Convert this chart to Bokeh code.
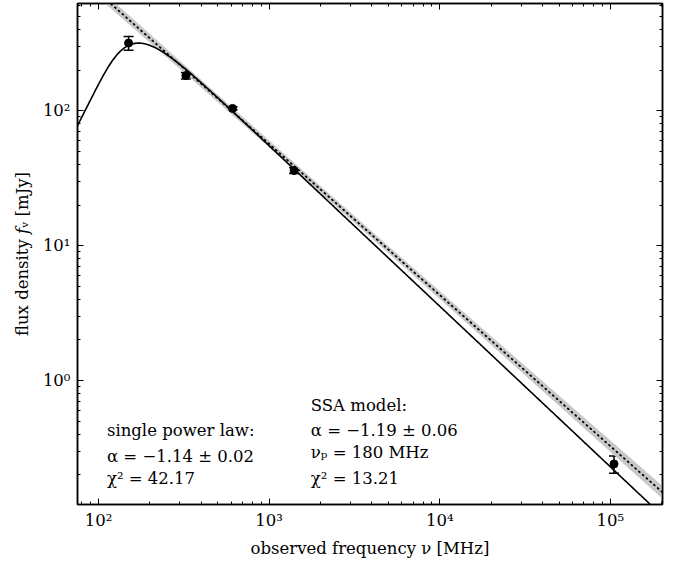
import numpy as np
from bokeh.plotting import figure
from bokeh.models import (LogAxis, FixedTicker, Whisker, TeeHead, ColumnDataSource,
                          Range1d, CustomJSTickFormatter)
from bokeh.core.properties import value
from bokeh.embed import file_html
from bokeh.resources import INLINE

# ---- measured data ----
freq_mhz = [150, 325, 610, 1400, 105000]
flux_mjy = [317, 182, 104, 36, 0.241]
flux_err = [37, 10, 3, 1.8, 0.035]

# ---- single power law fit (as drawn) ----
pl_alpha = -1.12
pl_alpha_err = 0.02
pl_norm_1ghz = 56.7        # mJy at 1 GHz
pl_norm_err_dex = 0.025
pl_pivot_mhz = 2000

# ---- SSA model fit ----
ssa_alpha = -1.19
ssa_nu_t = 158             # MHz (tau = 1)
ssa_norm_1ghz = 55         # mJy, optically thin asymptote at 1 GHz
ssa_thick_index = 2.5

# ---- axes ----
x_lo, x_hi = 75.3, 2.02e5
y_lo, y_hi = 0.1206, 623
x_ticks = [100, 1000, 10000, 100000]
x_tick_labels = ["10²", "10³", "10⁴", "10⁵"]
y_ticks = [1, 10, 100]
y_tick_labels = ["10⁰", "10¹", "10²"]

pl_text = ["single power law:", "α = −1.14 ± 0.02", "χ² = 42.17"]
ssa_text = ["SSA model:", "α = −1.19 ± 0.06", "νₚ = 180 MHz", "χ² = 13.21"]

FONT = "DejaVu Serif"
FS = "16.5px"

p = figure(width=681, height=561, x_axis_type="log", y_axis_type="log",
           x_range=Range1d(x_lo, x_hi), y_range=Range1d(y_lo, y_hi),
           output_backend="svg", toolbar_location=None,
           min_border_left=77, min_border_right=19, min_border_top=3, min_border_bottom=57)
p.grid.visible = False
p.outline_line_color = "black"
p.outline_line_width = 1.5
p.background_fill_color = "white"
p.border_fill_color = "white"

nu = np.logspace(np.log10(x_lo), np.log10(x_hi), 500)

# power law band + dotted line
pl = pl_norm_1ghz * (nu / 1000.0) ** pl_alpha
half = np.sqrt((pl_alpha_err * np.log10(nu / pl_pivot_mhz)) ** 2 + pl_norm_err_dex ** 2)
p.varea(x=nu, y1=pl * 10 ** (-half), y2=pl * 10 ** half, fill_color="#c8c8c8")
p.line(nu, pl, line_color="black", line_width=1.8, line_dash="1 4", line_cap="round")

# SSA model
tau = (nu / ssa_nu_t) ** (ssa_alpha - ssa_thick_index)
ssa = ssa_norm_1ghz * (nu / 1000.0) ** ssa_alpha * (1 - np.exp(-tau)) / tau
p.line(nu, ssa, line_color="black", line_width=1.6)

# data points
src = ColumnDataSource(dict(x=freq_mhz, y=flux_mjy,
                            upper=[f + e for f, e in zip(flux_mjy, flux_err)],
                            lower=[f - e for f, e in zip(flux_mjy, flux_err)]))
p.add_layout(Whisker(source=src, base="x", upper="upper", lower="lower", dimension="height",
                     line_color="black", line_width=1.5,
                     upper_head=TeeHead(size=10, line_width=1.5, line_color="black"),
                     lower_head=TeeHead(size=10, line_width=1.5, line_color="black")))
p.scatter("x", "y", source=src, size=8, color="black")

# annotations
pl_tx = [112] * 3
pl_ty = [0.426, 0.273, 0.188]
p.text(pl_tx, pl_ty, text=pl_text, text_font=value(FONT), text_font_size=FS,
       text_baseline="middle", text_align="left", text_color="black")
ssa_tx = [1754] * 4
ssa_ty = [0.653, 0.426, 0.293, 0.188]
p.text(ssa_tx, ssa_ty, text=ssa_text, text_font=value(FONT), text_font_size=FS,
       text_baseline="middle", text_align="left", text_color="black")

# ticks
x_minor = [m * 10 ** k for k in range(1, 6) for m in range(2, 10)]
y_minor = [m * 10.0 ** k for k in range(-1, 3) for m in range(2, 10)]

def fmt(tvals, tlabels):
    return CustomJSTickFormatter(args=dict(tvals=tvals, tlabels=tlabels), code="""
        for (let i = 0; i < tvals.length; i++) {
            if (Math.abs(Math.log10(tvals[i]) - Math.log10(tick)) < 1e-6) return tlabels[i];
        }
        return '';
    """)

def style(ax, ticks, minor, labels, show):
    ax.ticker = FixedTicker(ticks=ticks, minor_ticks=minor)
    ax.axis_line_color = "black"
    ax.axis_line_width = 1.5
    ax.major_tick_in = 6
    ax.major_tick_out = 0
    ax.minor_tick_in = 3
    ax.minor_tick_out = 0
    ax.major_tick_line_color = "black"
    ax.minor_tick_line_color = "black"
    if show:
        ax.formatter = fmt(ticks, labels)
        ax.major_label_text_font = FONT
        ax.major_label_text_font_size = FS
        ax.major_label_text_color = "black"
        ax.axis_label_text_font = FONT
        ax.axis_label_text_font_size = FS
        ax.axis_label_text_font_style = "normal"
        ax.axis_label_text_color = "black"
    else:
        ax.formatter = fmt(ticks, [""] * len(ticks))
        ax.major_label_text_font_size = "0px"
        ax.major_label_standoff = 0

xa = p.xaxis[0]
ya = p.yaxis[0]
style(xa, x_ticks, x_minor, x_tick_labels, True)
style(ya, y_ticks, y_minor, y_tick_labels, True)
xa.axis_label = "observed frequency ν [MHz]"
ya.axis_label = "flux density 𝑓ᵥ [mJy]"
xa.major_label_standoff = 6
ya.major_label_standoff = 7
xa.axis_label_standoff = 6
ya.axis_label_standoff = 8

top = LogAxis()
right = LogAxis()
style(top, x_ticks, x_minor, x_tick_labels, False)
style(right, y_ticks, y_minor, y_tick_labels, False)
p.add_layout(top, "above")
p.add_layout(right, "right")

open("out.html", "w").write(file_html(p, INLINE))
